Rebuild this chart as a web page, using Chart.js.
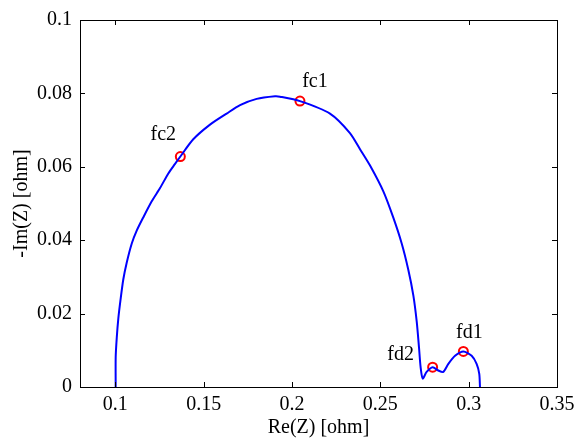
<!DOCTYPE html>
<html>
<head>
<meta charset="utf-8">
<script src="https://cdn.jsdelivr.net/npm/chart.js@4"></script>
<style>
  html, body { margin: 0; padding: 0; background: #fff; }
  #wrap { width: 584px; height: 445px; }
</style>
</head>
<body>
<div id="wrap"><canvas id="nyquist"></canvas></div>
<script>
'use strict';

// Impedance curve
const reZ = [0.1002, 0.1002, 0.1008, 0.1017, 0.1030, 0.1045, 0.1064, 0.1093, 0.1121, 0.1158,
  0.1206, 0.1253, 0.1300, 0.1338, 0.1368, 0.1441, 0.1536, 0.163, 0.1706, 0.18, 0.1904, 0.1932,
  0.2045, 0.2215, 0.2328, 0.2385, 0.2441, 0.2517, 0.2573, 0.2621, 0.2658, 0.2687, 0.2706, 0.2719,
  0.2728, 0.2740, 0.2762, 0.2796, 0.2828, 0.2856, 0.2885, 0.2923, 0.2970, 0.3017, 0.3045, 0.3060,
  0.3064];
const negImZ = [0, 0.0081, 0.0134, 0.0187, 0.0240, 0.0293, 0.0338, 0.0391, 0.0426, 0.0462,
  0.0506, 0.0542, 0.0582, 0.0608, 0.0628, 0.0675, 0.0715, 0.0745, 0.0768, 0.0785, 0.0792, 0.0791,
  0.0779, 0.0745, 0.0692, 0.0648, 0.0604, 0.0533, 0.0462, 0.0391, 0.0320, 0.0249, 0.0178, 0.0107,
  0.0054, 0.0023, 0.0041, 0.0054, 0.0045, 0.0041, 0.0063, 0.0085, 0.0097, 0.0085, 0.0063, 0.0036,
  0];

// Characteristic frequency markers
const markerNames = ['fc1', 'fc2', 'fd2', 'fd1'];
const markerRe = [0.2045, 0.1368, 0.2796, 0.2970];
const markerIm = [0.0779, 0.0628, 0.0054, 0.0097];
const labelOffsets = [[15, -19], [-17, -22], [-32, -12], [6, -19]];

const xTicks = [0.1, 0.15, 0.2, 0.25, 0.3, 0.35];
const yTicks = [0, 0.02, 0.04, 0.06, 0.08, 0.1];

const serif = "'Liberation Serif', 'DejaVu Serif', serif";

// MATLAB style box with inward ticks
const boxPlugin = {
  id: 'box',
  afterDraw(chart) {
    const { ctx, chartArea: a, scales } = chart;
    ctx.save();
    ctx.strokeStyle = '#000';
    ctx.lineWidth = 1;
    ctx.strokeRect(a.left + 0.5, a.top + 0.5, a.right - a.left, a.bottom - a.top);
    ctx.beginPath();
    const len = 5;
    xTicks.forEach(v => {
      const px = Math.round(scales.x.getPixelForValue(v)) + 0.5;
      ctx.moveTo(px, a.bottom); ctx.lineTo(px, a.bottom - len);
      ctx.moveTo(px, a.top); ctx.lineTo(px, a.top + len);
    });
    yTicks.forEach(v => {
      const py = Math.round(scales.y.getPixelForValue(v)) + 0.5;
      ctx.moveTo(a.left, py); ctx.lineTo(a.left + len, py);
      ctx.moveTo(a.right, py); ctx.lineTo(a.right - len, py);
    });
    ctx.stroke();

    // marker labels
    ctx.fillStyle = '#000';
    ctx.font = '20px ' + serif;
    ctx.textAlign = 'center';
    ctx.textBaseline = 'middle';
    markerNames.forEach((name, i) => {
      const px = scales.x.getPixelForValue(markerRe[i]) + labelOffsets[i][0];
      const py = scales.y.getPixelForValue(markerIm[i]) + labelOffsets[i][1];
      ctx.fillText(name, px, py);
    });
    ctx.restore();
  }
};

new Chart(document.getElementById('nyquist'), {
  type: 'scatter',
  data: {
    datasets: [
      {
        data: reZ.map((x, i) => ({ x: x, y: negImZ[i] })),
        showLine: true,
        borderColor: '#0000ff',
        borderWidth: 2,
        pointRadius: 0,
        tension: 0.25,
        fill: false
      },
      {
        data: markerRe.map((x, i) => ({ x: x, y: markerIm[i] })),
        showLine: false,
        pointRadius: 4.5,
        pointBorderWidth: 2,
        pointBorderColor: '#ff0000',
        pointBackgroundColor: 'rgba(0,0,0,0)'
      }
    ]
  },
  options: {
    responsive: true,
    maintainAspectRatio: false,
    animation: false,
    clip: false,
    layout: { padding: { left: 0, right: 27, top: 11, bottom: 0 } },
    plugins: { legend: { display: false }, tooltip: { enabled: false } },
    scales: {
      x: {
        type: 'linear',
        min: 0.08,
        max: 0.35,
        afterBuildTicks: s => { s.ticks = xTicks.map(v => ({ value: v })); },
        afterFit: s => { s.height = 58; },
        grid: { display: false, drawTicks: false },
        border: { display: false },
        ticks: {
          color: '#000',
          padding: 6,
          font: { family: serif, size: 20 },
          maxRotation: 0,
          callback: v => String(v)
        },
        title: {
          display: true,
          text: 'Re(Z) [ohm]',
          color: '#000',
          font: { family: serif, size: 20 },
          padding: { top: 0, bottom: 5 }
        }
      },
      y: {
        type: 'linear',
        min: 0,
        max: 0.1,
        afterBuildTicks: s => { s.ticks = yTicks.map(v => ({ value: v })); },
        afterFit: s => { s.width = 80; },
        grid: { display: false, drawTicks: false },
        border: { display: false },
        ticks: {
          color: '#000',
          padding: 8,
          font: { family: serif, size: 20 },
          callback: v => String(v)
        },
        title: {
          display: true,
          text: '-Im(Z) [ohm]',
          color: '#000',
          font: { family: serif, size: 20 },
          padding: { top: 10, bottom: 0 }
        }
      }
    }
  },
  plugins: [boxPlugin]
});
</script>
</body>
</html>
